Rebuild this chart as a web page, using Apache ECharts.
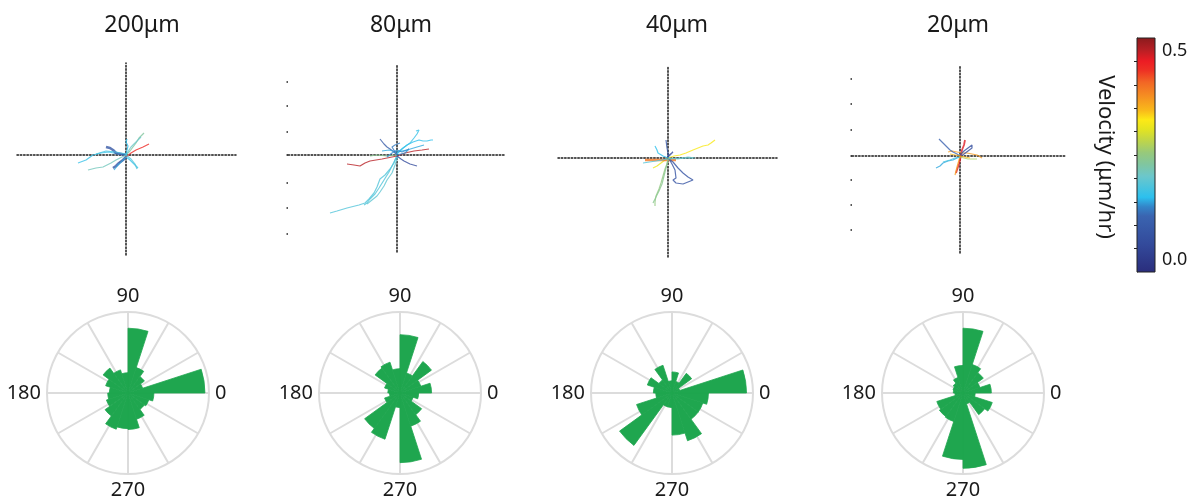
<!DOCTYPE html>
<html>
<head>
<meta charset="utf-8">
<script src="https://cdn.jsdelivr.net/npm/echarts@6/dist/echarts.min.js"></script>
<style>
  html, body { margin: 0; background: #fff; }
  #chart { width: 1200px; height: 502px; }
</style>
</head>
<body>
<div id="chart"></div>
<script>
// panel titles (pore size)
const titles = ['200μm', '80μm', '40μm', '20μm']

// rose histogram bins, 18 degrees each, counter-clockwise from 0
const roseBins = ['0', '18', '36', '54', '72', '90', '108', '126', '144', '162',
  '180', '198', '216', '234', '252', '270', '288', '306', '324', '342']
const rose200 = [0.95, 0.19, 0.25, 0.33, 0.80, 0.25, 0.30, 0.38, 0.29, 0.23,
  0.25, 0.28, 0.35, 0.47, 0.44, 0.45, 0.34, 0.25, 0.27, 0.32]
const rose80 = [0.39, 0.27, 0.48, 0.26, 0.72, 0.30, 0.40, 0.38, 0.20, 0.15,
  0.13, 0.20, 0.54, 0.60, 0.18, 0.86, 0.43, 0.33, 0.17, 0.23]
const rose40 = [0.92, 0.10, 0.30, 0.15, 0.26, 0.15, 0.36, 0.20, 0.32, 0.23,
  0.20, 0.46, 0.80, 0.18, 0.18, 0.52, 0.62, 0.40, 0.40, 0.45]
const rose20 = [0.35, 0.22, 0.31, 0.37, 0.80, 0.34, 0.20, 0.15, 0.13, 0.12,
  0.10, 0.34, 0.36, 0.37, 0.82, 0.93, 0.14, 0.33, 0.38, 0.15]
const angleLabels = [0, 90, 180, 270]

// cell tracks: [velocity (um/hr), [[x, y], ...]] relative to start point
const tracks200 = [
  [0.16, [[-48, -8], [-40, -5], [-33, 0], [-25, 2], [-17, 3], [-8, 1], [0, 0]]],
  [0.07, [[-20, 8], [-16, 7], [-13, 5], [-10, 2], [-5, 1], [0, 0]]],
  [0.21, [[-38, -15], [-30, -13], [-23, -12], [-15, -8], [-10, -5], [0, 0]]],
  [0.23, [[0, 0], [4, 4], [7, 8], [10, 12], [13, 17], [16, 20], [18, 22]]],
  [0.20, [[0, 0], [3, 5], [5, 8], [8, 11], [10, 13], [15, 18]]],
  [0.46, [[-7, -8], [-3, -5], [0, -2], [5, 2], [10, 5], [17, 8], [23, 11]]],
  [0.07, [[-13, -13], [-10, -11], [-7, -8], [-3, -5], [0, -2]]],
  [0.16, [[0, -2], [4, -5], [7, -8], [10, -11], [12, -13]]],
  [0.15, [[0, 0], [1, 5], [2, 9], [0, 13], [1, 16]]],
  [0.17, [[-30, 1], [-20, 4], [-10, 3], [0, 1]]],
  [0.14, [[-12, -15], [-8, -10], [-4, -6], [0, -2]]],
  [0.18, [[0, 0], [5, -4], [9, -9], [11, -14]]],
]
const tracks80 = [
  [0.18, [[0, 0], [-3, -8], [-7, -14], [-12, -20], [-17, -24], [-20, -32], [-23, -38],
    [-28, -44], [-32, -48], [-38, -50], [-50, -53], [-60, -56], [-67, -58]]],
  [0.18, [[0, -1], [-4, -9], [-8, -17], [-13, -25], [-18, -33], [-22, -39], [-27, -44], [-30, -48], [-33, -50]]],
  [0.19, [[1, -1], [-2, -10], [-5, -18], [-10, -25], [-13, -31], [-17, -37], [-20, -41], [-25, -45], [-30, -49]]],
  [0.50, [[-50, -9], [-43, -10], [-37, -11], [-32, -8], [-27, -6], [-15, -4], [0, -1],
    [8, 2], [17, 4], [25, 5], [32, 6]]],
  [0.15, [[0, 1], [5, 6], [10, 10], [16, 13], [22, 15], [26, 14], [30, 14], [34, 15], [36, 15]]],
  [0.16, [[0, 2], [6, 7], [13, 12], [17, 17], [20, 21], [22, 25], [19, 24]]],
  [0.08, [[-17, 16], [-15, 14], [-13, 11], [-10, 8], [-7, 6], [-3, 3], [0, 0]]],
  [0.04, [[0, -1], [4, -4], [7, -6], [13, -9], [20, -11]]],
  [0.14, [[-15, 4], [-8, 5], [0, 3], [10, 5], [20, 8], [27, 10]]],
  [0.24, [[-27, -1], [-20, 0], [-10, -1], [0, 0]]],
  [0.13, [[-10, -2], [-5, 2], [0, 5], [5, 3], [12, 6], [8, 2], [0, 0]]],
  [0.12, [[0, 0], [-5, 8], [-2, 10], [3, 12]]],
]
const tracks40 = [
  [0.33, [[0, 0], [6, 2], [12, 3], [18, 5], [25, 8], [30, 10], [35, 12], [40, 13], [43, 15], [47, 18]]],
  [0.32, [[-15, -10], [-11, -8], [-7, -5], [-3, -2], [0, -1]]],
  [0.41, [[-23, -2], [-10, -2], [0, -2], [8, -2]]],
  [0.25, [[0, -1], [-1, -6], [-3, -11], [-5, -18], [-7, -25], [-9, -31], [-12, -38], [-13, -44], [-13, -48]]],
  [0.24, [[0, -2], [-2, -10], [-4, -18], [-6, -26], [-9, -33], [-12, -39], [-15, -45]]],
  [0.06, [[1, -1], [4, -6], [7, -12], [8, -20], [5, -22], [8, -25], [10, -27], [15, -26],
    [20, -24], [25, -22], [20, -19], [15, -15], [10, -10], [5, -4], [1, -1]]],
  [0.07, [[-2, 18], [-1, 10], [0, 5], [0, 0]]],
  [0.15, [[-13, 12], [-11, 8], [-10, 5], [-5, 2], [0, 0]]],
  [0.18, [[-25, -5], [-12, -3], [0, -1], [15, 0], [25, 0]]],
  [0.04, [[0, 2], [5, 6], [3, 4], [0, 1]]],
  [0.20, [[0, 0], [10, -1], [20, 1], [27, 0]]],
]
const tracks20 = [
  [0.48, [[5, 16], [4, 11], [2, 6], [1, 1], [0, -4], [-1, -8], [-2, -11], [-3, -14], [-4, -17]]],
  [0.38, [[-12, 4], [-8, 5], [-3, 4], [2, 3], [7, 3], [12, 2], [17, 1], [22, -2]]],
  [0.10, [[-21, 17], [-17, 13], [-13, 9], [-10, 6], [-7, 4], [-3, 2], [0, 0]]],
  [0.14, [[-24, -12], [-20, -10], [-17, -7], [-12, -5], [-7, -4], [-3, -2], [0, -1]]],
  [0.05, [[0, 1], [4, 5], [8, 8], [12, 11], [14, 12], [12, 8], [8, 5], [4, 2], [1, 0]]],
  [0.27, [[0, -1], [4, -2], [8, -3], [13, -3], [17, -3]]],
  [0.38, [[-5, -19], [-3, -11], [-1, -4], [0, 0]]],
  [0.17, [[-17, -6], [-10, -4], [-5, -2], [0, -1]]],
  [0.36, [[-10, 2], [-5, 1], [0, 0], [5, -1], [10, -2]]],
]
// left edge tick marks of the track panels (only 80 and 20 show them)
const edgeTicks = [[], [73, 49, 23, 0, -28, -53, -79], [], [77, 52, 26, 0, -24, -49, -74]]

// colorbar
const colorbarRange = [-0.03, 0.53]
const colorbarLabels = [0, 0.5]
const colorbarTicks = [0.026, 0.082, 0.138, 0.194, 0.25, 0.306, 0.362, 0.418, 0.474]
const jetOffsets = [0, 0.12, 0.24, 0.28, 0.32, 0.41, 0.46, 0.51, 0.56, 0.61, 0.65, 0.69, 0.75, 0.81, 0.86, 0.9, 0.95, 1]
const jetColors = ['#2a2d7c', '#334a9b', '#3a64b0', '#3385c9', '#2cc0ee', '#6cc7cb', '#80c6a0', '#97c97b',
  '#bed54a', '#e4e420', '#fde916', '#f9b91a', '#f58f22', '#f26625', '#ee3124', '#ec1c24', '#b41f24', '#8a1a1d']

// layout
const trackGrids = [
  { left: 17, top: 63, width: 219, height: 192, x: [-109, 110], y: [-100, 92] },
  { left: 288, top: 65, width: 217, height: 187, x: [-109, 108], y: [-97, 90] },
  { left: 558, top: 67, width: 219, height: 190, x: [-110, 109], y: [-99, 91] },
  { left: 852, top: 66, width: 214, height: 187, x: [-108, 106], y: [-97, 90] },
]
const titleX = [137, 396, 672, 953]
const roseCenters = [[128, 393], [400, 393], [672, 393], [963, 393]]
const roseRadius = 81
const boldTracks = { '0-1': 2.6, '0-6': 2.6, '2-2': 2.4, '3-0': 1.8 }

const FONT = 'Noto Sans'
const GREEN = '#1fa64f'
const GRID_GRAY = '#dcdcdc'

const hexToRgb = h => [1, 3, 5].map(i => parseInt(h.slice(i, i + 2), 16))
const velocityColor = v => {
  const f = Math.min(1, Math.max(0, (v - colorbarRange[0]) / (colorbarRange[1] - colorbarRange[0])))
  let i = 0
  while (i < jetOffsets.length - 2 && f > jetOffsets[i + 1]) i++
  const t = (f - jetOffsets[i]) / (jetOffsets[i + 1] - jetOffsets[i])
  const a = hexToRgb(jetColors[i]), b = hexToRgb(jetColors[i + 1])
  const c = a.map((x, k) => Math.round(x + (b[k] - x) * t))
  return `rgb(${c.join(',')})`
}

const allTracks = [tracks200, tracks80, tracks40, tracks20]
const allRoses = [rose200, rose80, rose40, rose20]

const grid = []
const xAxis = []
const yAxis = []
const polar = []
const angleAxis = []
const radiusAxis = []
const series = []

const dotted = { color: '#1a1a1a', width: 1.5, type: [1.5, 1.8] }

trackGrids.forEach((g, i) => {
  grid.push({ left: g.left, top: g.top, width: g.width, height: g.height })
  xAxis.push({
    type: 'value', gridIndex: i, min: g.x[0], max: g.x[1],
    axisLine: { onZero: true, lineStyle: dotted },
    axisTick: { show: false }, axisLabel: { show: false }, splitLine: { show: false },
  })
  yAxis.push({
    type: 'value', gridIndex: i, min: g.y[0], max: g.y[1], position: 'left',
    axisLine: { onZero: true, lineStyle: dotted },
    axisTick: { show: false }, axisLabel: { show: false }, splitLine: { show: false },
  })
})
// edge tick axes (indices 4..7)
trackGrids.forEach((g, i) => {
  yAxis.push({
    type: 'value', gridIndex: i, min: g.y[0], max: g.y[1], position: 'left',
    axisLine: { show: false, onZero: false },
    axisTick: { show: edgeTicks[i].length > 0, length: 1.5, customValues: edgeTicks[i], lineStyle: { color: '#222', width: 1.5 } },
    axisLabel: { show: false }, splitLine: { show: false },
  })
})

allTracks.forEach((tracks, i) => {
  tracks.forEach(([v, pts], j) => {
    series.push({
      type: 'line', xAxisIndex: i, yAxisIndex: i, data: pts,
      showSymbol: false, symbol: 'none', silent: true, z: 3,
      lineStyle: { color: velocityColor(v), width: boldTracks[`${i}-${j}`] || 1.2, opacity: 0.8 },
    })
  })
})

roseCenters.forEach((c, i) => {
  // polar for the frame: circle + spokes every 30 deg
  polar.push({ center: c, radius: roseRadius })
  // polar for the histogram wedges
  polar.push({ center: c, radius: roseRadius })
  angleAxis.push({
    polarIndex: 2 * i, type: 'value', min: 0, max: 360, interval: 30,
    startAngle: 0, clockwise: false,
    axisLine: { lineStyle: { color: GRID_GRAY, width: 2 } },
    axisTick: { show: false },
    splitLine: { show: true, lineStyle: { color: GRID_GRAY, width: 2 } },
    axisLabel: {
      margin: 6, fontSize: 20, color: '#1a1a1a', fontFamily: FONT,
      formatter: v => (angleLabels.includes(v) ? String(v) : ''),
    },
  })
  radiusAxis.push({
    polarIndex: 2 * i, type: 'value', min: 0, max: 1,
    axisLine: { show: false }, axisTick: { show: false }, axisLabel: { show: false }, splitLine: { show: false },
  })
  angleAxis.push({
    polarIndex: 2 * i + 1, type: 'category', data: roseBins, boundaryGap: true,
    startAngle: 0, clockwise: false,
    axisLine: { show: false }, axisTick: { show: false }, axisLabel: { show: false }, splitLine: { show: false },
  })
  radiusAxis.push({
    polarIndex: 2 * i + 1, type: 'value', min: 0, max: 1,
    axisLine: { show: false }, axisTick: { show: false }, axisLabel: { show: false }, splitLine: { show: false },
  })
  series.push({
    type: 'bar', coordinateSystem: 'polar', polarIndex: 2 * i + 1,
    data: allRoses[i], barCategoryGap: '0%', silent: true, z: 3,
    itemStyle: { color: GREEN, borderColor: GREEN, borderWidth: 0.8 },
  })
})

// colorbar
grid.push({ left: 1137, top: 38, width: 18, height: 234 })
xAxis.push({ type: 'value', gridIndex: 4, min: 0, max: 1, show: false })
yAxis.push({
  type: 'value', gridIndex: 4, min: colorbarRange[0], max: colorbarRange[1], position: 'right',
  axisLine: { show: true, lineStyle: { color: '#222', width: 1 } },
  axisTick: { show: true, inside: true, length: 3, customValues: colorbarTicks, lineStyle: { color: '#222' } },
  axisLabel: {
    customValues: colorbarLabels, margin: 7, fontSize: 18, color: '#1a1a1a', fontFamily: FONT,
    formatter: v => Number(v).toFixed(1),
  },
  splitLine: { show: false },
})
const barGradient = new echarts.graphic.LinearGradient(0, 1, 0, 0,
  jetOffsets.map((o, k) => ({ offset: o, color: jetColors[k] })))
series.push({
  type: 'custom', xAxisIndex: 4, yAxisIndex: 8, silent: true,
  data: [[0, colorbarRange[0], 1, colorbarRange[1]]],
  renderItem: (params, api) => {
    const a = api.coord([api.value(0), api.value(1)])
    const b = api.coord([api.value(2), api.value(3)])
    return {
      type: 'rect',
      shape: { x: a[0], y: b[1], width: b[0] - a[0], height: a[1] - b[1] },
      style: { fill: barGradient, stroke: '#222', lineWidth: 1 },
    }
  },
})

const chart = echarts.init(document.getElementById('chart'))
chart.setOption({
  animation: false,
  backgroundColor: '#fff',
  textStyle: { fontFamily: FONT },
  title: titles.map((t, i) => ({
    text: t, left: titleX[i], top: 9, textAlign: 'center',
    textStyle: { fontSize: 23, fontWeight: 'normal', color: '#1a1a1a', fontFamily: FONT },
  })),
  grid, xAxis, yAxis, polar, angleAxis, radiusAxis, series,
  graphic: [{
    type: 'text', x: 1105, y: 157, rotation: -Math.PI / 2,
    style: { text: 'Velocity (μm/hr)', font: `22px "${FONT}"`, fill: '#1a1a1a', align: 'center', verticalAlign: 'middle' },
  }],
})
</script>
</body>
</html>
